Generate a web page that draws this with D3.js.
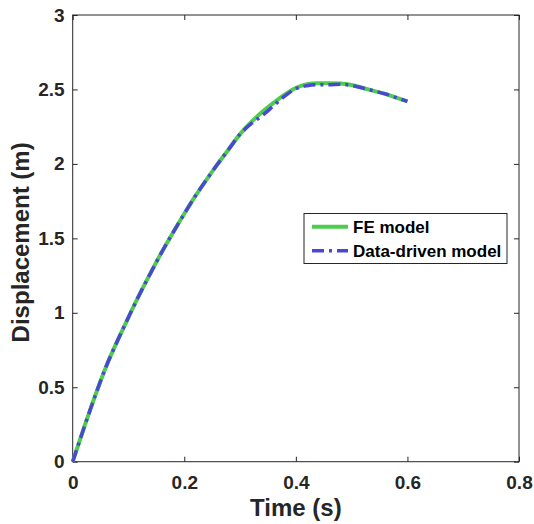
<!DOCTYPE html>
<html><head><meta charset="utf-8">
<script src="https://cdn.jsdelivr.net/npm/d3@7"></script>
<style>
html,body{margin:0;padding:0;background:#fff;}
svg{display:block;font-family:"Liberation Sans",Arial,Helvetica,sans-serif;}
</style></head>
<body>
<svg id="chart" width="534" height="524"></svg>
<script>
const time = [0,0.02,0.04,0.06,0.08,0.10,0.12,0.14,0.16,0.18,0.20,0.22,0.24,0.26,0.28,0.30,0.32,0.34,0.36,0.38,0.40,0.42,0.44,0.46,0.48,0.50,0.52,0.54,0.56,0.58,0.60];
const feModel = [0,0.225,0.44,0.64,0.81,0.97,1.125,1.27,1.41,1.54,1.665,1.785,1.895,2.00,2.10,2.20,2.28,2.35,2.41,2.465,2.51,2.535,2.542,2.542,2.54,2.53,2.51,2.49,2.47,2.445,2.42];
const dataDriven = [0,0.225,0.44,0.64,0.81,0.97,1.125,1.27,1.41,1.54,1.665,1.785,1.895,2.00,2.10,2.20,2.27,2.325,2.39,2.455,2.505,2.525,2.532,2.532,2.535,2.527,2.51,2.49,2.47,2.445,2.42];
const xTicks = [0,0.2,0.4,0.6,0.8];
const yTicks = [0,0.5,1,1.5,2,2.5,3];
const seriesNames = ["FE model","Data-driven model"];

const svg = d3.select("#chart");
const L = 72.7, R = 519, T = 15, B = 461.7;
const x = d3.scaleLinear().domain([0,0.8]).range([L,R]);
const y = d3.scaleLinear().domain([0,3]).range([B,T]);
const axisColor = "#262626";

svg.append("rect").attr("x",L).attr("y",T).attr("width",R-L).attr("height",B-T)
  .attr("fill","none").attr("stroke",axisColor).attr("stroke-width",1);

const fmt = d => d3.format("")(d);
const styleAxis = g => {
  g.select(".domain").remove();
  g.selectAll("line").attr("stroke",axisColor).attr("stroke-width",1);
  g.selectAll("text").attr("fill",axisColor).attr("font-size","19px").attr("font-weight","bold")
   .attr("font-family","'Liberation Sans',Arial,sans-serif");
};
svg.append("g").attr("transform",`translate(0,${B})`)
  .call(d3.axisBottom(x).tickValues(xTicks).tickFormat(fmt).tickSize(-5).tickPadding(14)).call(styleAxis);
svg.append("g").attr("transform",`translate(0,${T})`)
  .call(d3.axisTop(x).tickValues(xTicks).tickFormat("").tickSize(-5)).call(styleAxis);
svg.append("g").attr("transform",`translate(${L},0)`)
  .call(d3.axisLeft(y).tickValues(yTicks).tickFormat(fmt).tickSize(-5).tickPadding(8)).call(styleAxis);
svg.append("g").attr("transform",`translate(${R},0)`)
  .call(d3.axisRight(y).tickValues(yTicks).tickFormat("").tickSize(-5)).call(styleAxis);

const feData = time.map((t,i)=>[t,feModel[i]]);
const ddData = time.map((t,i)=>[t,dataDriven[i]]);
const line = d3.line().x(d=>x(d[0])).y(d=>y(d[1])).curve(d3.curveMonotoneX);
const green = "#4dcc4d", blue = "#4848d0";
svg.append("path").datum(feData).attr("d",line).attr("fill","none")
  .attr("stroke",green).attr("stroke-width",4).attr("stroke-linejoin","round");
svg.append("path").datum(ddData).attr("d",line).attr("fill","none")
  .attr("stroke",blue).attr("stroke-width",3.5).attr("stroke-dasharray","12,5,3,5");

svg.append("text").attr("x",(L+R)/2).attr("y",516).attr("text-anchor","middle")
  .attr("font-size","24px").attr("font-weight","bold").attr("fill",axisColor).text("Time (s)");
svg.append("text").attr("transform",`translate(29,${(T+B)/2+4}) rotate(-90)`).attr("text-anchor","middle")
  .attr("font-size","24px").attr("font-weight","bold").attr("fill",axisColor).text("Displacement (m)");

const lg = svg.append("g");
lg.append("rect").attr("x",304).attr("y",213.5).attr("width",203).attr("height",50)
  .attr("fill","#fff").attr("stroke",axisColor).attr("stroke-width",1);
const legendItems = [{name:seriesNames[0],color:green,dash:null,w:4,yy:226.7},{name:seriesNames[1],color:blue,dash:"12,5,3,5",w:3.5,yy:250.7}];
legendItems.forEach(it=>{
  lg.append("line").attr("x1",312).attr("x2",348).attr("y1",it.yy).attr("y2",it.yy)
    .attr("stroke",it.color).attr("stroke-width",it.w).attr("stroke-dasharray",it.dash);
  lg.append("text").attr("x",353).attr("y",it.yy+6).attr("font-size","17px").attr("font-weight","bold")
    .attr("fill","#000").text(it.name);
});
</script>
</body></html>
